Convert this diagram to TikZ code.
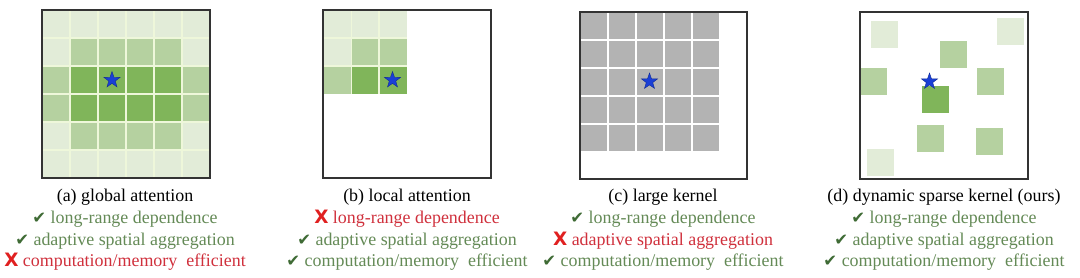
\documentclass[tikz,border=0pt]{standalone}
\usepackage{fontspec}
\setmainfont{Liberation Serif}
\newfontfamily\symf{DejaVu Sans}
\usetikzlibrary{shapes.geometric}
\definecolor{cL}{HTML}{E2ECD8}
\definecolor{cM}{HTML}{B5D1A0}
\definecolor{cD}{HTML}{80B55A}
\definecolor{cG}{HTML}{B3B3B3}
\definecolor{gl}{HTML}{EEF7DA}
\definecolor{txtG}{HTML}{648A56}
\definecolor{chkG}{HTML}{3F6B35}
\definecolor{txtR}{HTML}{D0303C}
\definecolor{xR}{HTML}{E02020}
\definecolor{starB}{HTML}{1A3FD6}
\definecolor{frameC}{HTML}{333333}
\newcommand\okmark{{\color{chkG}\fontsize{16.5}{16}\selectfont\symf ✔}}
\newcommand\nomark{{\color{xR}\fontsize{18.5}{18}\selectfont\symf\bfseries X}}
\begin{document}
\begin{tikzpicture}[x=1bp,y=-1bp,
  frame/.style={draw=frameC, line width=1.3bp},
  gridln/.style={draw=#1, line width=1.8bp},
  staricon/.style={star, star points=5, star point ratio=2.5, fill=starB,
    draw=starB!70!black, line width=0.4bp, minimum size=17bp, inner sep=0pt},
  captxt/.style={font=\fontsize{18}{20}\selectfont, anchor=base, inner sep=0pt, text=black},
  good/.style={captxt, text=txtG},
  bad/.style={captxt, text=txtR}]
\useasboundingbox (0,0) rectangle (1080,277);
\fill[white] (0,0) rectangle (1080,277);

% ---------- (a) global attention ----------
\foreach \r/\cols in {0/{L,L,L,L,L,L},1/{L,M,M,M,M,L},2/{M,D,D,D,D,M},3/{M,D,D,D,D,M},4/{L,M,M,M,M,L},5/{L,L,L,L,L,L}}{
  \foreach \c [count=\i from 0] in \cols {
    \fill[c\c] ({42+28*\i},{10+28*\r}) rectangle ++(28,28);
  }
}
\foreach \k in {1,...,5}{
  \draw[gridln=gl] ({42+28*\k},10) -- ({42+28*\k},178);
  \draw[gridln=gl] (42,{10+28*\k}) -- (210,{10+28*\k});
}
\draw[frame] (42,10) rectangle (210,178);
\node[staricon] (starA) at (112,80) {};

% ---------- (b) local attention ----------
\foreach \r/\cols in {0/{L,L,L},1/{L,M,M},2/{M,D,D}}{
  \foreach \c [count=\i from 0] in \cols {
    \fill[c\c] ({324+27.5*\i},{10+28*\r}) rectangle ++(27.5,28);
  }
}
\foreach \k in {1,2}{
  \draw[gridln=gl] ({324+27.5*\k},10) -- ({324+27.5*\k},94);
  \draw[gridln=gl] (324,{10+28*\k}) -- (406.5,{10+28*\k});
}
\draw[frame] (323,10) rectangle (491,178);
\node[staricon] (starB) at (392.5,80) {};

% ---------- (c) large kernel ----------
\fill[cG] (580,12) rectangle (720,152);
\foreach \k in {1,...,4}{
  \draw[gridln=white] ({580+28*\k},12) -- ({580+28*\k},152);
  \draw[gridln=white] (580,{12+28*\k}) -- (720,{12+28*\k});
}
\draw[gridln=white] (580,152) -- (720,152);
\draw[gridln=white] (720,12) -- (720,152);
\draw[frame] (580,12) rectangle (747,179);
\node[staricon] (starC) at (649.5,81.5) {};

% ---------- (d) dynamic sparse kernel ----------
\foreach \x/\y/\c in {871/21/L, 997/18/L, 940/41/M, 860/68/M, 977/68/M,
                       922/86/D, 917/125/M, 976/128/M, 867/149/L}{
  \fill[c\c] (\x,\y) rectangle ++(27,27);
}
\draw[frame] (860,12) rectangle (1028,179);
\node[staricon] (starD) at (929.5,81.5) {};

% ---------- captions ----------
\node[captxt] (capA) at (125,201.5) {(a) global attention};
\node[good] (a1) at (125,223.5) {\okmark\ long-range dependence};
\node[good] (a2) at (125,245) {\okmark\ adaptive spatial aggregation};
\node[bad]  (a3) at (125,266) {\nomark\ computation/memory\ \ efficient};

\node[captxt] (capB) at (407,201.5) {(b) local attention};
\node[bad]  (b1) at (407,223.5) {\nomark\ long-range dependence};
\node[good] (b2) at (407,245) {\okmark\ adaptive spatial aggregation};
\node[good] (b3) at (407,266) {\okmark\ computation/memory\ \ efficient};

\node[captxt] (capC) at (663,201.5) {(c) large kernel};
\node[good] (c1) at (663,223.5) {\okmark\ long-range dependence};
\node[bad]  (c2) at (663,245) {\nomark\ adaptive spatial aggregation};
\node[good] (c3) at (663,266) {\okmark\ computation/memory\ \ efficient};

\node[captxt] (capD) at (944,201.5) {(d) dynamic sparse kernel (ours)};
\node[good] (d1) at (944,223.5) {\okmark\ long-range dependence};
\node[good] (d2) at (944,245) {\okmark\ adaptive spatial aggregation};
\node[good] (d3) at (944,266) {\okmark\ computation/memory\ \ efficient};
\end{tikzpicture}
\end{document}
